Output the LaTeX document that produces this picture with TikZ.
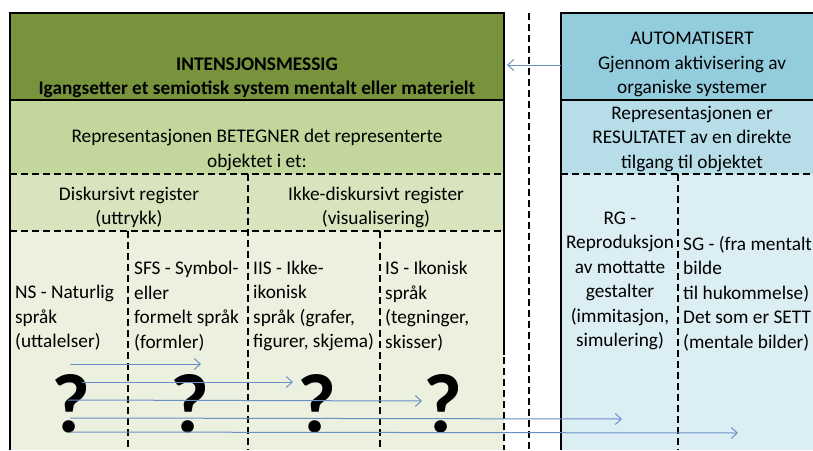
\documentclass[tikz,border=0pt]{standalone}
\usepackage{fontspec}
\setmainfont{Carlito}
\usetikzlibrary{arrows.meta}
\definecolor{dkgreen}{HTML}{77933C}
\definecolor{midgreen}{HTML}{C3D69B}
\definecolor{ltgreen}{HTML}{D7E4BD}
\definecolor{palegreen}{HTML}{EBF1DE}
\definecolor{dkblue}{HTML}{93CDDD}
\definecolor{midblue}{HTML}{B7DEE8}
\definecolor{ltblue}{HTML}{DBEEF4}
\definecolor{arrowblue}{HTML}{6A8FC8}
\begin{document}
\begin{tikzpicture}[x=1pt,y=-1pt,
  border/.style={line width=2.6pt,black},
  sepline/.style={line width=2pt,black},
  dline/.style={line width=1.6pt,black,dash pattern=on 7pt off 4pt},
  txt/.style={inner sep=0pt,font=\fontsize{19.3}{24.5}\selectfont},
  qmark/.style={inner sep=0pt,anchor=base,font=\fontsize{84}{86}\selectfont\bfseries},
  conn/.style={draw=arrowblue,line width=1pt,-{Straight Barb[length=6pt,width=11pt]}}]
\useasboundingbox (0,0) rectangle (813,450);
% fills left
\fill[dkgreen] (10,13) rectangle (504,100);
\fill[midgreen] (10,100) rectangle (504,174);
\fill[ltgreen] (10,174) rectangle (504,231);
\fill[palegreen] (10,231) rectangle (504,450);
% fills right
\fill[dkblue] (561,13) rectangle (813,100);
\fill[midblue] (561,100) rectangle (813,174);
\fill[ltblue] (561,174) rectangle (813,450);
% left box lines
\draw[border] (10,450) -- (10,13) -- (504,13) -- (504,355);
\draw[dline] (504,357) -- (504,450);
\draw[sepline] (10,100) -- (504,100);
\draw[dline] (10,174) -- (504,174);
\draw[dline] (10,231) -- (504,231);
\draw[dline] (248,174) -- (248,450);
\draw[dline] (128,231) -- (128,450);
\draw[dline] (380,231) -- (380,450);
% middle dashed
\draw[dline] (529,13) -- (529,450);
% right box lines
\draw[border] (561,450) -- (561,13) -- (813,13);
\draw[sepline] (561,100) -- (813,100);
\draw[dline] (561,174) -- (813,174);
\draw[dline] (678,174) -- (678,450);
% texts left
\node[txt,align=center,font=\fontsize{19.3}{24.5}\selectfont\bfseries] (head) at (257,78)
  {INTENSJONSMESSIG\\Igangsetter et semiotisk system mentalt eller materielt};
\node[txt,align=center] (bet) at (257,150) {Representasjonen BETEGNER det representerte\\objektet i et:};
\node[txt,align=center] (disk) at (129,207.5) {Diskursivt register\\(uttrykk)};
\node[txt,align=center] (ikke) at (376,207.5) {Ikke-diskursivt register\\(visualisering)};
\node[txt,align=left,anchor=west] (ns) at (15,318) {NS - Naturlig\\språk\\(uttalelser)};
\node[txt,align=left,anchor=west] (sfs) at (134,306) {SFS - Symbol-\\eller\\formelt språk\\(formler)};
\node[txt,align=left,anchor=west] (iis) at (253,306) {IIS - Ikke-\\ikonisk\\språk (grafer,\\figurer, skjema)};
\node[txt,align=left,anchor=west] (is) at (385,306) {IS - Ikonisk\\språk\\(tegninger,\\skisser)};
% texts right
\node[txt,align=center] (auto) at (692,64.5) {AUTOMATISERT\\Gjennom aktivisering av\\organiske systemer};
\node[txt,align=center] (res) at (692,139) {Representasjonen er\\RESULTATET av en direkte\\tilgang til objektet};
\node[txt,align=center] (rg) at (620,281) {RG -\\Reproduksjon\\av mottatte\\gestalter\\(immitasjon,\\simulering)};
\node[txt,align=left,anchor=west] (sg) at (683,293.5) {SG - (fra mentalt\\bilde\\til hukommelse)\\Det som er SETT\\(mentale bilder)};
% question marks
\node[qmark] (q1) at (71,432) {?};
\node[qmark] (q2) at (190,432) {?};
\node[qmark] (q3) at (317,432) {?};
\node[qmark] (q4) at (443,432) {?};
% arrow coordinates
\coordinate (topS) at (561,65);
\coordinate (topE) at (507,65);
\coordinate (a1s) at (70,364);  \coordinate (a1e) at (201,364);
\coordinate (a2s) at (82,382);  \coordinate (a2e) at (293,382);
\coordinate (a3s) at (68,400);  \coordinate (a3e) at (422,401);
\coordinate (a4s) at (70,418);  \coordinate (a4e) at (622,419);
\coordinate (a5s) at (70,432);  \coordinate (a5e) at (738,433);
\draw[conn] (topS) -- (topE);
\draw[conn] (a1s) -- (a1e);
\draw[conn] (a2s) -- (a2e);
\draw[conn] (a3s) -- (a3e);
\draw[conn] (a4s) -- (a4e);
\draw[conn] (a5s) -- (a5e);
\end{tikzpicture}
\end{document}
